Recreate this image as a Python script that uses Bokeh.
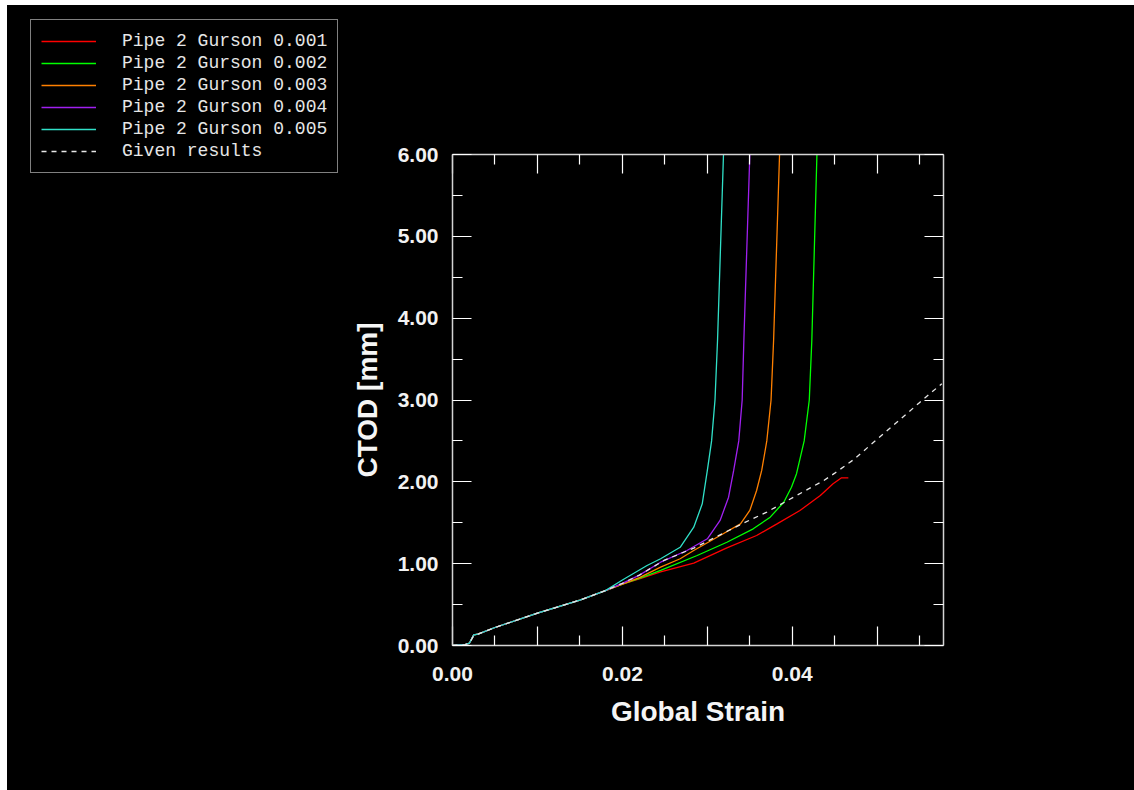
from bokeh.plotting import figure
from bokeh.models import Legend, LegendItem, LinearAxis, FixedTicker, Range1d, Spacer
from bokeh.layouts import row, column
from bokeh.embed import file_html
from bokeh.resources import INLINE

# ---- data ----
strain_001 = [0, 0.0015, 0.002, 0.0025, 0.003, 0.005, 0.01, 0.015, 0.018, 0.02, 0.022, 0.0245,
              0.0284, 0.0323, 0.0358, 0.0382, 0.0409, 0.0433, 0.0448, 0.0458, 0.0466]
ctod_001 = [0, 0.01, 0.03, 0.13, 0.14, 0.22, 0.395, 0.555, 0.67, 0.75, 0.815, 0.9,
            1.006, 1.194, 1.344, 1.487, 1.65, 1.833, 1.976, 2.049, 2.049]

strain_002 = [0, 0.0015, 0.002, 0.0025, 0.003, 0.005, 0.01, 0.015, 0.018, 0.02, 0.022, 0.0245,
              0.0288, 0.0323, 0.0354, 0.0374, 0.039, 0.0399, 0.0405, 0.0414, 0.042, 0.0423, 0.0429]
ctod_002 = [0, 0.01, 0.03, 0.13, 0.14, 0.22, 0.395, 0.555, 0.67, 0.75, 0.82, 0.917,
            1.10, 1.262, 1.426, 1.568, 1.751, 1.934, 2.10, 2.5, 3.0, 3.73, 6.0]

strain_003 = [0, 0.0015, 0.002, 0.0025, 0.003, 0.005, 0.01, 0.015, 0.018, 0.02, 0.022, 0.0245,
              0.0268, 0.0284, 0.0315, 0.0339, 0.035, 0.0358, 0.0364, 0.037, 0.0375, 0.0378, 0.0385]
ctod_003 = [0, 0.01, 0.03, 0.13, 0.14, 0.22, 0.395, 0.555, 0.67, 0.75, 0.83, 0.957,
            1.06, 1.161, 1.344, 1.487, 1.65, 1.894, 2.139, 2.5, 3.0, 3.73, 6.0]

strain_004 = [0, 0.0015, 0.002, 0.0025, 0.003, 0.005, 0.01, 0.015, 0.018, 0.02, 0.022, 0.0245,
              0.0276, 0.030, 0.0315, 0.0325, 0.0331, 0.0337, 0.0341, 0.0343, 0.035]
ctod_004 = [0, 0.01, 0.03, 0.13, 0.14, 0.22, 0.395, 0.555, 0.67, 0.76, 0.86, 1.018,
            1.161, 1.304, 1.528, 1.812, 2.139, 2.5, 3.0, 3.73, 6.0]

strain_005 = [0, 0.0015, 0.002, 0.0025, 0.003, 0.005, 0.01, 0.015, 0.018, 0.02, 0.0229, 0.0245,
              0.0268, 0.0284, 0.0294, 0.030, 0.0305, 0.0309, 0.0312, 0.0319]
ctod_005 = [0, 0.01, 0.03, 0.13, 0.14, 0.22, 0.395, 0.555, 0.67, 0.80, 0.978, 1.06,
            1.2, 1.446, 1.731, 2.139, 2.5, 3.0, 3.73, 6.0]

strain_given = [0, 0.0015, 0.002, 0.0025, 0.003, 0.005, 0.01, 0.015, 0.018, 0.02, 0.022, 0.0249,
                0.0284, 0.0325, 0.0349, 0.037, 0.0405, 0.0437, 0.045, 0.0472, 0.0511, 0.055, 0.0576]
ctod_given = [0, 0.01, 0.03, 0.12, 0.14, 0.22, 0.395, 0.555, 0.67, 0.76, 0.86, 1.04,
              1.19, 1.405, 1.528, 1.63, 1.833, 2.016, 2.106, 2.27, 2.62, 2.97, 3.2]

series_names = ["Pipe 2 Gurson 0.001", "Pipe 2 Gurson 0.002", "Pipe 2 Gurson 0.003",
                "Pipe 2 Gurson 0.004", "Pipe 2 Gurson 0.005", "Given results"]

x_tick_values = [0.0, 0.01, 0.02, 0.03, 0.04, 0.05]
x_tick_labels = ["0.00", "", "0.02", "", "0.04", ""]
x_minor_values = [0.005, 0.015, 0.025, 0.035, 0.045, 0.055]
y_tick_values = [0, 1, 2, 3, 4, 5, 6]
y_tick_labels = ["0.00", "1.00", "2.00", "3.00", "4.00", "5.00", "6.00"]
y_minor_values = [0.5, 1.5, 2.5, 3.5, 4.5, 5.5]

x_label = "Global Strain"
y_label = "CTOD [mm]"

colors = ["#ff0000", "#00ff00", "#ff8000", "#a020f0", "#30e0c8"]
given_color = "#e6e6e6"
xs = [strain_001, strain_002, strain_003, strain_004, strain_005]
ys = [ctod_001, ctod_002, ctod_003, ctod_004, ctod_005]

# ---- main chart ----
p = figure(width=787, height=785, x_range=Range1d(0, 0.0578), y_range=Range1d(0, 6),
           output_backend="svg", toolbar_location=None,
           x_axis_location=None, y_axis_location=None,
           background_fill_color="black", border_fill_color="black",
           outline_line_color=None, frame_align=False,
           min_border_left=105, min_border_right=191, min_border_top=149, min_border_bottom=145)
p.xgrid.visible = False
p.ygrid.visible = False


def make_axis(ticker, overrides, labels_visible, label=None, standoff=15):
    ax = LinearAxis(ticker=ticker, major_label_overrides=overrides,
                    axis_line_color="#d4d4d4", axis_line_width=1.5,
                    major_tick_line_color="white", minor_tick_line_color="white",
                    major_tick_line_width=1.2, minor_tick_line_width=1.2,
                    major_tick_in=19, major_tick_out=0, minor_tick_in=10, minor_tick_out=0,
                    major_label_text_font="Liberation Sans", major_label_text_font_size="21px",
                    major_label_text_font_style="bold",
                    major_label_text_color="#f2f2f2", major_label_standoff=standoff)
    if not labels_visible:
        ax.major_label_text_alpha = 0
        ax.major_label_text_font_size = "1px"
    if label:
        ax.axis_label = label
        ax.axis_label_text_font = "Liberation Sans"
        ax.axis_label_text_font_size = "28px"
        ax.axis_label_text_font_style = "bold"
        ax.axis_label_text_color = "#f5f5f5"
    return ax


x_ticker = FixedTicker(ticks=x_tick_values, minor_ticks=x_minor_values)
y_ticker = FixedTicker(ticks=y_tick_values, minor_ticks=y_minor_values)
x_over = dict(zip(x_tick_values, x_tick_labels))
y_over = dict(zip([float(v) for v in y_tick_values], y_tick_labels))

xb = make_axis(x_ticker, x_over, True, x_label, standoff=21)
xb.axis_label_standoff = 12
yl = make_axis(y_ticker, y_over, True, y_label, standoff=14)
yl.axis_label_standoff = 12
xt = make_axis(x_ticker, x_over, False)
yr = make_axis(y_ticker, y_over, False)
p.add_layout(xb, "below")
p.add_layout(yl, "left")
p.add_layout(xt, "above")
p.add_layout(yr, "right")

for sx, sy, c in zip(xs, ys, colors):
    p.line(sx, sy, line_color=c, line_width=1.3)
p.line(strain_given, ctod_given, line_color=given_color, line_width=1.3, line_dash="5 5")

# ---- legend panel (left of the chart) ----
lf = figure(width=340, height=785, x_range=Range1d(0, 1), y_range=Range1d(0, 1),
            output_backend="svg", toolbar_location=None,
            x_axis_location=None, y_axis_location=None,
            background_fill_color="black", border_fill_color="black",
            outline_line_color=None, min_border=0, frame_align=False)
lf.xgrid.visible = False
lf.ygrid.visible = False

items = []
for sx, sy, c, name in zip(xs, ys, colors, series_names[:5]):
    r = lf.line(sx, sy, line_color=c, line_width=1.3, visible=False)
    items.append(LegendItem(label=name, renderers=[r]))
rg = lf.line(strain_given, ctod_given, line_color=given_color, line_width=1.3,
             line_dash="5 5", visible=False)
items.append(LegendItem(label=series_names[5], renderers=[rg]))

legend = Legend(items=items, location=(23, 617),
                background_fill_color="black", background_fill_alpha=1,
                border_line_color="white", border_line_width=1.5,
                inactive_fill_alpha=0,
                label_text_font="Liberation Mono", label_text_font_size="18px",
                label_text_color="#e6e6e6",
                glyph_width=55, glyph_height=22, label_height=22, label_standoff=26,
                spacing=0, padding=10, margin=0)
lf.add_layout(legend, "center")

layout = column(Spacer(width=1134, height=5),
                row(Spacer(width=7, height=785, styles={"background-color": "white"}), lf, p,
                    styles={"background-color": "black"}))

open("out.html", "w").write(file_html(layout, INLINE))
